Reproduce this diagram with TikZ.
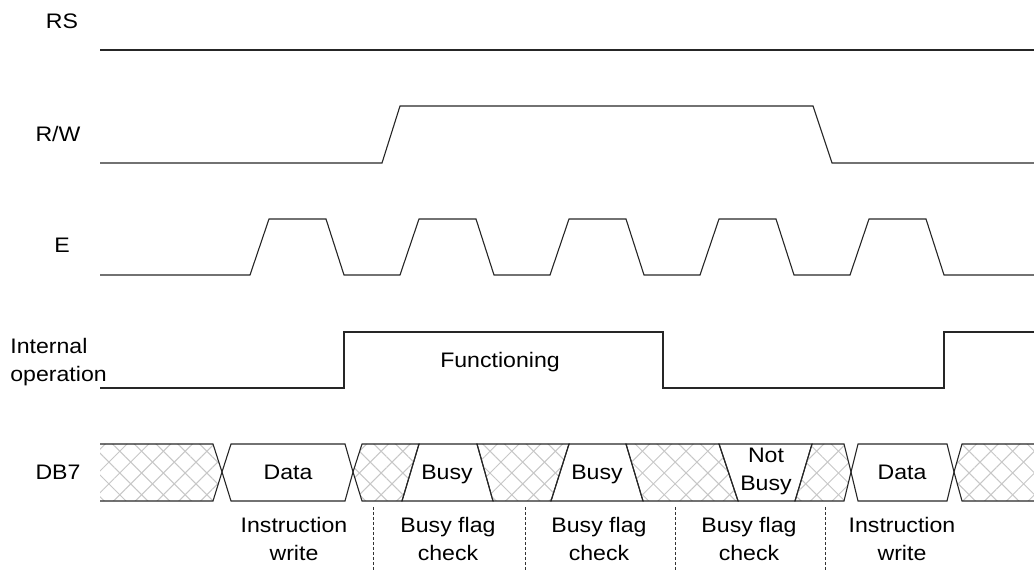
\documentclass[tikz,border=0pt]{standalone}
\usepackage{fontspec}
\setmainfont{Liberation Sans}[FakeStretch=1.1]
\usetikzlibrary{patterns.meta}
\tikzstyle{signal}=[draw=black!85,line width=0.55pt]
\tikzstyle{hatch}=[pattern={Lines[angle=45,distance=7.7pt,line width=0.5pt]},pattern color=black!22,
    preaction={pattern={Lines[angle=-45,distance=7.7pt,line width=0.5pt]},pattern color=black!22}]

\begin{document}
\begin{tikzpicture}[x=0.5pt,y=-0.5pt,font=\fontsize{10.5}{13.8}\selectfont]
    \tikzstyle{signame}=[anchor=base,inner sep=0pt]
    \tikzstyle{busval}=[anchor=base,inner sep=0pt]
    \tikzstyle{phase}=[anchor=north,align=center,inner sep=0pt]
    \tikzstyle{divider}=[black!80,line width=0.5pt,dash pattern=on 1.5pt off 1pt]
    \useasboundingbox (0,0) rectangle (1034,571);
    % signal names
    \node[signame] (RS) at (62,29) {RS};
    \node[signame] (RW) at (58,142) {R/W};
    \node[signame] (E) at (62,253) {E};
    \node[signame,anchor=north west,align=left] (IO) at (10,338) {Internal\\operation};
    \node[signame] (DB7) at (58,480) {DB7};
    % RS and R/W
    \draw[signal] (100,50) -- (1034,50);
    \draw[signal] (100,163) -- (382,163) -- (400,106) -- (813,106) -- (832,163) -- (1034,163);
    % E pulses
    \draw[signal] (100,275) foreach \a in {250,400,550,700,850} {
        -- (\a,275) -- (\a+19,219) -- (\a+76,219) -- (\a+94,275) } -- (1034,275);
    % internal operation
    \draw[signal] (100,388) -- (344,388) -- (344,332) -- (663,332) -- (663,388)
        -- (944,388) -- (944,332) -- (1034,332);
    \node[busval] (func) at (500,368) {Functioning};
    % DB7 bus
    \path[hatch] (100,444) -- (213,444) -- (222,472) -- (213,501) -- (100,501) -- cycle;
    \draw[signal] (100,444) -- (213,444) -- (222,472) -- (213,501) -- (100,501);
    \draw[signal] (222,472) -- (231,444) -- (345,444) -- (353,472) -- (345,501) -- (231,501) -- cycle;
    \draw[signal,hatch] (353,472) -- (362,444) -- (419,444) -- (402,501) -- (362,501) -- cycle;
    \draw[signal] (419,444) -- (477,444) -- (493,501) -- (402,501) -- cycle;
    \draw[signal,hatch] (477,444) -- (569,444) -- (551,501) -- (493,501) -- cycle;
    \draw[signal] (569,444) -- (626,444) -- (643,501) -- (551,501) -- cycle;
    \draw[signal,hatch] (626,444) -- (719,444) -- (738,501) -- (643,501) -- cycle;
    \draw[signal] (719,444) -- (812,444) -- (795,501) -- (738,501) -- cycle;
    \draw[signal,hatch] (812,444) -- (844,444) -- (851,472) -- (844,501) -- (795,501) -- cycle;
    \draw[signal] (851,472) -- (858,444) -- (947,444) -- (954,472) -- (947,501) -- (858,501) -- cycle;
    \path[hatch] (954,472) -- (962,444) -- (1034,444) -- (1034,501) -- (962,501) -- cycle;
    \draw[signal] (1034,444) -- (962,444) -- (954,472) -- (962,501) -- (1034,501);
    \node[busval] (data1) at (288,480) {Data};
    \node[busval] (busy1) at (447,480) {Busy};
    \node[busval] (busy2) at (597,480) {Busy};
    \node[busval,anchor=north,align=center] (notbusy) at (766,448) {Not\\Busy};
    \node[busval] (data2) at (902,480) {Data};
    % phases
    \foreach \x in {373,525,675,825}
        \draw[divider] (\x,507) -- (\x,571);
    \node[phase] (write1) at (294,517) {Instruction\\write};
    \node[phase] (check1) at (448,517) {Busy flag\\check};
    \node[phase] (check2) at (599,517) {Busy flag\\check};
    \node[phase] (check3) at (749,517) {Busy flag\\check};
    \node[phase] (write2) at (902,517) {Instruction\\write};
\end{tikzpicture}
\end{document}
